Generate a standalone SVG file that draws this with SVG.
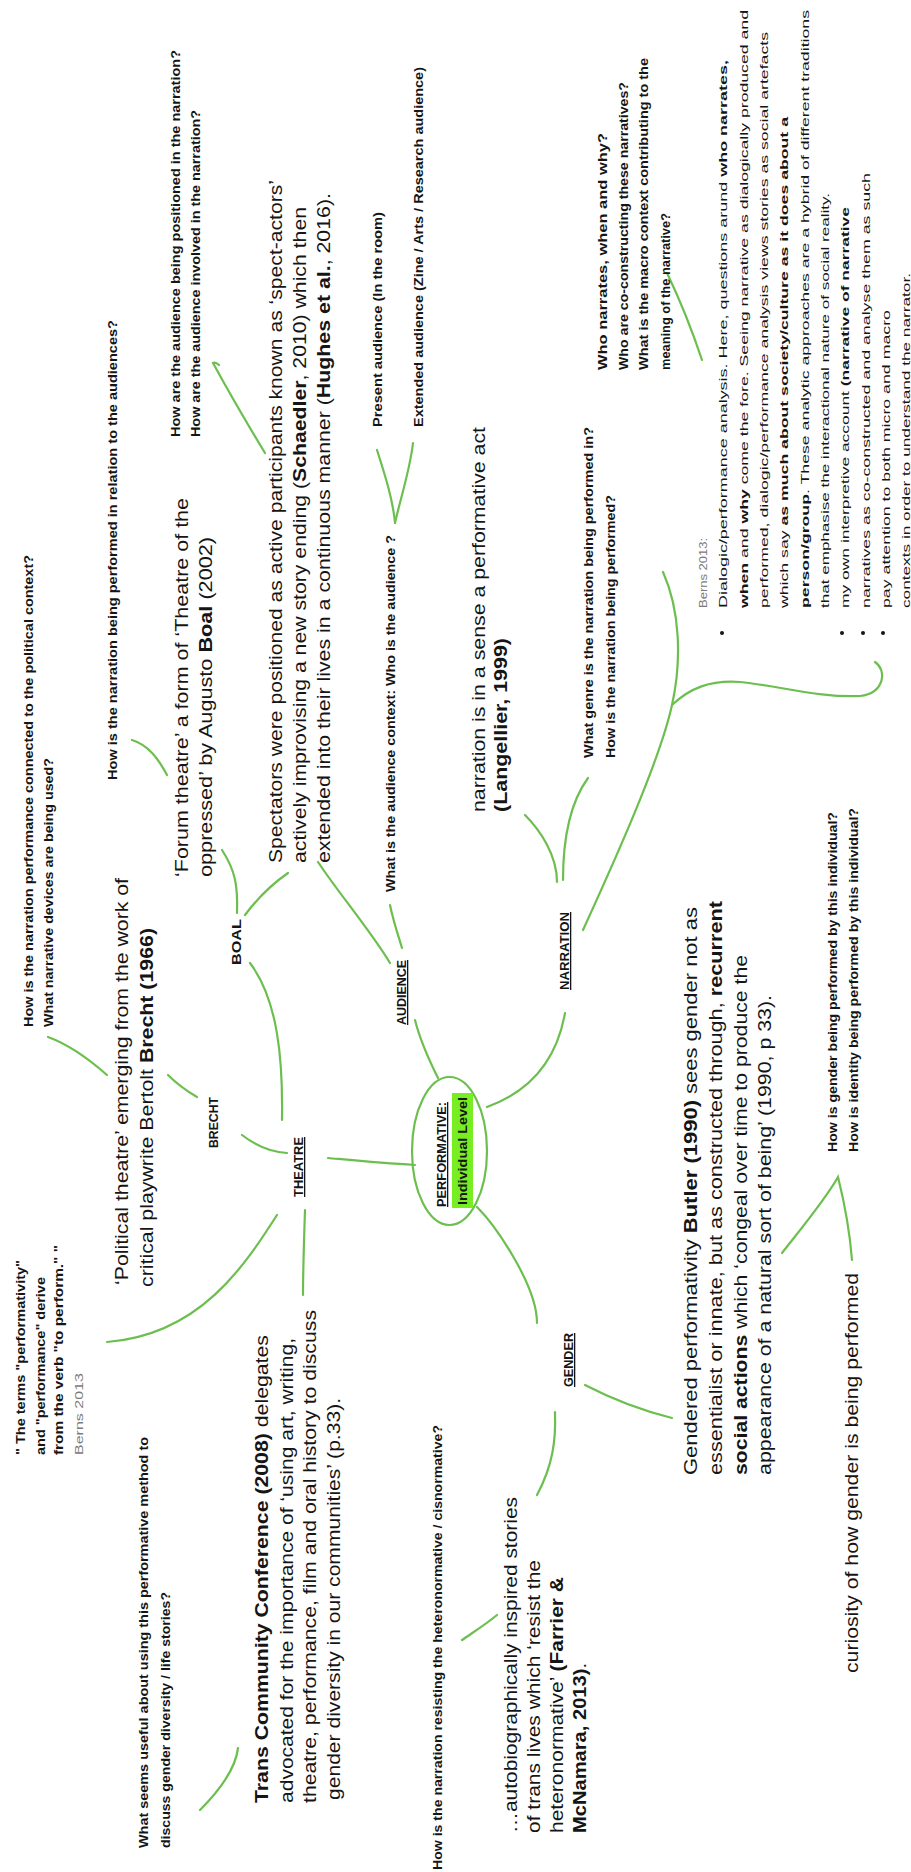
<svg xmlns="http://www.w3.org/2000/svg" width="911" height="1872" viewBox="0 0 911 1872">
<style>
text{font-family:"Liberation Sans",Arial,sans-serif;fill:#151515}
.q{font-size:12px;font-weight:bold}
.n{font-size:13px;font-weight:bold}
.u{text-decoration:underline}
.t{font-size:19px}
.s{font-size:11.5px}
.g{fill:#7a7a7a}
.b{font-weight:bold}
.c path,.c line{fill:none;stroke:#6cbf4f;stroke-width:2.2;stroke-linecap:round}
</style>
<rect width="911" height="1872" fill="#fff"/>
<g class="c" id="connectors">
<path d="M415,1165 C380,1163 350,1160 328,1158"/>
<path d="M438,1078 C428,1058 420,1040 415,1020"/>
<path d="M487,1107 C520,1095 555,1070 565,1013"/>
<path d="M477,1207 C495,1225 537,1285 537,1323"/>
<path d="M287,1153 C270,1152 255,1145 242,1135"/>
<path d="M282,1120 C283,1060 278,1000 250,963"/>
<path d="M305,1210 C304,1240 303,1270 303,1295"/>
<path d="M277,1215 C245,1265 200,1335 107,1342"/>
<path d="M197,1097 C185,1090 175,1082 168,1075"/>
<path d="M107,1075 C90,1060 70,1045 48,1037"/>
<path d="M237,913 C238,885 235,870 222,850"/>
<path d="M245,915 C260,895 275,882 288,873"/>
<path d="M167,775 C158,758 148,745 132,740"/>
<path d="M390,963 C370,930 340,895 318,862"/>
<path d="M402,948 C398,935 393,920 390,905"/>
<path d="M377,450 C385,475 393,500 395,523"/>
<path d="M413,443 C410,470 400,500 395,523"/>
<path d="M265,453 C245,420 225,385 213,363 C215,362 218,364 219,365"/>
<path d="M525,815 C540,830 557,855 557,882"/>
<path d="M588,778 C572,800 563,835 563,880"/>
<path d="M583,930 C615,860 660,760 672,705 C682,660 680,610 663,572"/>
<path d="M672,705 C690,688 710,680 740,682 C780,686 820,698 860,696 C885,693 887,670 875,662"/>
<path d="M667,273 C680,300 692,330 702,360"/>
<path d="M585,1385 C610,1398 640,1410 672,1418"/>
<path d="M555,1412 C556,1440 553,1465 537,1495"/>
<path d="M497,1615 C485,1625 472,1633 462,1640"/>
<path d="M782,1253 C800,1230 825,1200 838,1177 C845,1205 850,1235 852,1260"/>
<path d="M238,1748 C236,1765 225,1785 200,1810"/>
</g>
<g id="center">
<ellipse cx="449.5" cy="1151" rx="37.5" ry="74" fill="none" stroke="#6cbf4f" stroke-width="2.2"/>
<rect x="452" y="1093" width="21" height="115" fill="#77ee22"/>
<text class="n u" transform="translate(446,1207) rotate(-90)" textLength="105" lengthAdjust="spacingAndGlyphs">PERFORMATIVE:</text>
<text class="n" transform="translate(467,1205) rotate(-90)" textLength="108" lengthAdjust="spacingAndGlyphs">Individual Level</text>
</g>
<g id="theatre"><text class="n u" transform="translate(303,1197) rotate(-90)" textLength="60" lengthAdjust="spacingAndGlyphs">THEATRE</text></g>
<g id="brecht"><text class="n" transform="translate(218,1148) rotate(-90)" textLength="51" lengthAdjust="spacingAndGlyphs">BRECHT</text></g>
<g id="boal"><text class="n" transform="translate(241,965) rotate(-90)" textLength="46" lengthAdjust="spacingAndGlyphs">BOAL</text></g>
<g id="audience"><text class="n u" transform="translate(406,1025) rotate(-90)" textLength="65" lengthAdjust="spacingAndGlyphs">AUDIENCE</text></g>
<g id="narration"><text class="n u" transform="translate(569,990) rotate(-90)" textLength="78" lengthAdjust="spacingAndGlyphs">NARRATION</text></g>
<g id="gender"><text class="n u" transform="translate(573,1387) rotate(-90)" textLength="54" lengthAdjust="spacingAndGlyphs">GENDER</text></g>

<g id="q-audience-position">
<text class="q" transform="translate(180,437) rotate(-90)" textLength="387" lengthAdjust="spacingAndGlyphs">How are the audience being positioned  in the narration?</text>
<text class="q" transform="translate(200,437) rotate(-90)" textLength="327" lengthAdjust="spacingAndGlyphs">How are the audience involved  in the narration?</text>
</g>
<g id="q-relation"><text class="q" transform="translate(117,780) rotate(-90)" textLength="460" lengthAdjust="spacingAndGlyphs">How is the narration being performed in relation to the audiences?</text></g>
<g id="q-political">
<text class="q" transform="translate(33,1027) rotate(-90)" textLength="472" lengthAdjust="spacingAndGlyphs">How is the narration performance connected to the political context?</text>
<text class="q" transform="translate(53,1027) rotate(-90)" textLength="269" lengthAdjust="spacingAndGlyphs">What narrative devices are being used?</text>
</g>
<g id="q-audience-context"><text class="q" transform="translate(395,892) rotate(-90)" textLength="357" lengthAdjust="spacingAndGlyphs">What is the audience context:  Who is the audience ?</text></g>
<g id="present"><text class="q" transform="translate(382,427) rotate(-90)" textLength="215" lengthAdjust="spacingAndGlyphs">Present audience  (In the room)</text></g>
<g id="extended"><text class="q" transform="translate(423,427) rotate(-90)" textLength="360" lengthAdjust="spacingAndGlyphs">Extended audience  (Zine / Arts / Research audience)</text></g>
<g id="q-genre">
<text class="q" transform="translate(593,758) rotate(-90)" textLength="331" lengthAdjust="spacingAndGlyphs">What genre is the narration being performed in?</text>
<text class="q" transform="translate(615,758) rotate(-90)" textLength="263" lengthAdjust="spacingAndGlyphs">How is the narration being performed?</text>
</g>
<g id="q-who">
<text class="q" transform="translate(607,370) rotate(-90)" textLength="237" lengthAdjust="spacingAndGlyphs">Who narrates,  when and why?</text>
<text class="q" transform="translate(628,370) rotate(-90)" textLength="288" lengthAdjust="spacingAndGlyphs">Who are co-constructing  these narratives?</text>
<text class="q" transform="translate(648,370) rotate(-90)" textLength="312" lengthAdjust="spacingAndGlyphs">What is the macro context  contributing  to the</text>
<text class="q" transform="translate(670,370) rotate(-90)" textLength="157" lengthAdjust="spacingAndGlyphs">meaning of the narrative?</text>
</g>
<g id="q-gender-performed">
<text class="q" transform="translate(837,1152) rotate(-90)" textLength="340" lengthAdjust="spacingAndGlyphs">How is gender being performed by this individual?</text>
<text class="q" transform="translate(858,1152) rotate(-90)" textLength="344" lengthAdjust="spacingAndGlyphs">How is identity being performed by this individual?</text>
</g>
<g id="q-resisting"><text class="q" transform="translate(442,1870) rotate(-90)" textLength="445" lengthAdjust="spacingAndGlyphs">How is the narration  resisting  the heteronormative  / cisnormative?</text></g>
<g id="quote-terms">
<text class="q" transform="translate(25,1455) rotate(-90)" textLength="195" lengthAdjust="spacingAndGlyphs">" The terms "performativity"</text>
<text class="q" transform="translate(45,1455) rotate(-90)" textLength="178" lengthAdjust="spacingAndGlyphs">and "performance" derive</text>
<text class="q" transform="translate(63,1455) rotate(-90)" textLength="210" lengthAdjust="spacingAndGlyphs">from the verb "to perform." "</text>
<text class="s g" transform="translate(83,1455) rotate(-90)" textLength="82" lengthAdjust="spacingAndGlyphs">Berns 2013</text>
</g>
<g id="q-useful">
<text class="q" transform="translate(148,1848) rotate(-90)" textLength="411" lengthAdjust="spacingAndGlyphs">What seems useful about using this performative method to</text>
<text class="q" transform="translate(170,1848) rotate(-90)" textLength="256" lengthAdjust="spacingAndGlyphs">discuss gender diversity  / life stories?</text>
</g>

<g id="political-theatre">
<text class="t" transform="translate(128,1285) rotate(-90)" textLength="407" lengthAdjust="spacingAndGlyphs">‘Political theatre’ emerging from the work of</text>
<text class="t" transform="translate(153,1287) rotate(-90)" textLength="359" lengthAdjust="spacingAndGlyphs">critical playwrite Bertolt <tspan class="b">Brecht (1966)</tspan></text>
</g>
<g id="forum-theatre">
<text class="t" transform="translate(188,877) rotate(-90)" textLength="379" lengthAdjust="spacingAndGlyphs">‘Forum theatre’ a form of ‘Theatre of the</text>
<text class="t" transform="translate(212,877) rotate(-90)" textLength="340" lengthAdjust="spacingAndGlyphs">oppressed’ by Augusto <tspan class="b">Boal</tspan> (2002)</text>
</g>
<g id="spectators">
<text class="t" transform="translate(282,863) rotate(-90)" textLength="683" lengthAdjust="spacingAndGlyphs">Spectators were positioned as active participants known as ‘spect-actors’</text>
<text class="t" transform="translate(306,863) rotate(-90)" textLength="656" lengthAdjust="spacingAndGlyphs">actively improvising a new story ending (<tspan class="b">Schaedler</tspan>, 2010) which then</text>
<text class="t" transform="translate(330,863) rotate(-90)" textLength="670" lengthAdjust="spacingAndGlyphs">extended into their lives in a continuous manner (<tspan class="b">Hughes et al.</tspan>, 2016).</text>
</g>
<g id="langellier">
<text class="t" transform="translate(485,812) rotate(-90)" textLength="385" lengthAdjust="spacingAndGlyphs">narration is in a sense a performative act</text>
<text class="t b" transform="translate(507,812) rotate(-90)" textLength="174" lengthAdjust="spacingAndGlyphs">(Langellier, 1999)</text>
</g>
<g id="berns">
<text class="s g" transform="translate(707,608) rotate(-90)" textLength="70" lengthAdjust="spacingAndGlyphs">Berns 2013:</text>
<circle cx="722" cy="633" r="2" fill="#151515"/>
<circle cx="842" cy="633" r="2" fill="#151515"/>
<circle cx="863" cy="633" r="2" fill="#151515"/>
<circle cx="883" cy="633" r="2" fill="#151515"/>
<text class="s" transform="translate(727,608) rotate(-90)" textLength="548" lengthAdjust="spacingAndGlyphs">Dialogic/performance  analysis. Here, questions arund <tspan class="b">who narrates,</tspan></text>
<text class="s" transform="translate(748,608) rotate(-90)" textLength="598" lengthAdjust="spacingAndGlyphs"><tspan class="b">when</tspan> and <tspan class="b">why</tspan> come the fore. Seeing narrative as dialogically produced and</text>
<text class="s" transform="translate(768,608) rotate(-90)" textLength="576" lengthAdjust="spacingAndGlyphs">performed, dialogic/performance analysis views stories as social artefacts</text>
<text class="s" transform="translate(788,608) rotate(-90)" textLength="491" lengthAdjust="spacingAndGlyphs">which say <tspan class="b">as much about society/culture as it does about a</tspan></text>
<text class="s" transform="translate(809,608) rotate(-90)" textLength="598" lengthAdjust="spacingAndGlyphs"><tspan class="b">person/group</tspan>. These analytic approaches are a hybrid of different traditions</text>
<text class="s" transform="translate(829,608) rotate(-90)" textLength="415" lengthAdjust="spacingAndGlyphs">that emphasise the interactional nature of social reality.</text>
<text class="s" transform="translate(849,608) rotate(-90)" textLength="401" lengthAdjust="spacingAndGlyphs">my own interpretive account <tspan class="b">(narrative of narrative</tspan></text>
<text class="s" transform="translate(870,608) rotate(-90)" textLength="435" lengthAdjust="spacingAndGlyphs">narratives as co-constructed and analyse them as such</text>
<text class="s" transform="translate(890,608) rotate(-90)" textLength="298" lengthAdjust="spacingAndGlyphs">pay attention to both micro and macro</text>
<text class="s" transform="translate(910,608) rotate(-90)" textLength="335" lengthAdjust="spacingAndGlyphs">contexts in order to understand  the narrator.</text>
</g>
<g id="butler">
<text class="t" transform="translate(697,1475) rotate(-90)" textLength="568" lengthAdjust="spacingAndGlyphs">Gendered performativity <tspan class="b">Butler (1990)</tspan> sees gender not as</text>
<text class="t" transform="translate(722,1475) rotate(-90)" textLength="574" lengthAdjust="spacingAndGlyphs">essentialist or innate, but as constructed through, <tspan class="b">recurrent</tspan></text>
<text class="t" transform="translate(747,1475) rotate(-90)" textLength="520" lengthAdjust="spacingAndGlyphs"><tspan class="b">social actions</tspan> which ‘congeal over time to produce the</text>
<text class="t" transform="translate(771,1475) rotate(-90)" textLength="480" lengthAdjust="spacingAndGlyphs">appearance of a natural sort of being’ (1990, p 33).</text>
</g>
<g id="curiosity"><text class="t" transform="translate(858,1673) rotate(-90)" textLength="400" lengthAdjust="spacingAndGlyphs">curiosity of how gender is being performed</text></g>
<g id="autobiographical">
<text class="t" transform="translate(517,1833) rotate(-90)" textLength="336" lengthAdjust="spacingAndGlyphs">…autobiographically inspired stories</text>
<text class="t" transform="translate(540,1833) rotate(-90)" textLength="273" lengthAdjust="spacingAndGlyphs">of trans lives which ‘resist the</text>
<text class="t" transform="translate(563,1833) rotate(-90)" textLength="256" lengthAdjust="spacingAndGlyphs">heteronormative’ <tspan class="b">(Farrier &amp;</tspan></text>
<text class="t" transform="translate(586,1833) rotate(-90)" textLength="170" lengthAdjust="spacingAndGlyphs"><tspan class="b">McNamara, 2013)</tspan>.</text>
</g>
<g id="trans-conference">
<text class="t" transform="translate(268,1803) rotate(-90)" textLength="468" lengthAdjust="spacingAndGlyphs"><tspan class="b">Trans Community Conference (2008)</tspan> delegates</text>
<text class="t" transform="translate(293,1803) rotate(-90)" textLength="465" lengthAdjust="spacingAndGlyphs">advocated for the importance of ‘using art, writing,</text>
<text class="t" transform="translate(316,1803) rotate(-90)" textLength="493" lengthAdjust="spacingAndGlyphs">theatre, performance, film and oral history to discuss</text>
<text class="t" transform="translate(340,1800) rotate(-90)" textLength="402" lengthAdjust="spacingAndGlyphs">gender diversity in our communities’ (p.33).</text>
</g>
</svg>
